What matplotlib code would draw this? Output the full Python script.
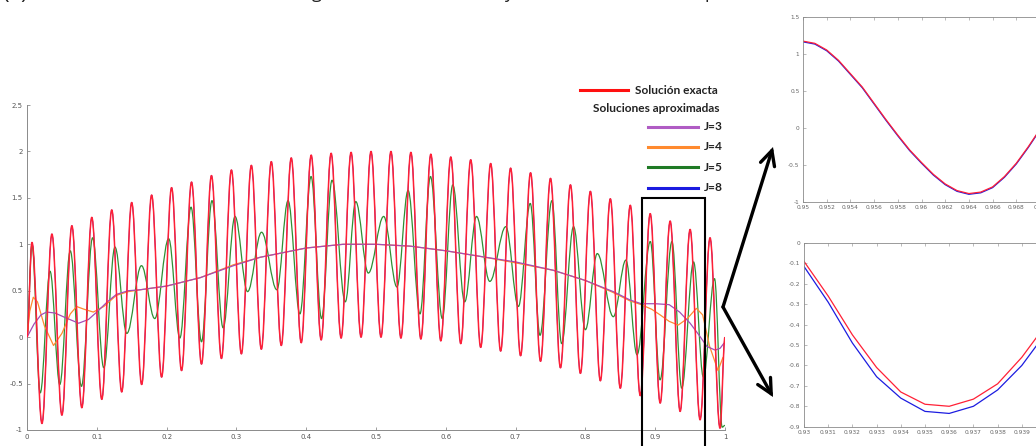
import matplotlib
matplotlib.use("Agg")
import matplotlib.pyplot as plt
import numpy as np
from matplotlib.path import Path
from matplotlib.patches import PathPatch, Rectangle, FancyArrowPatch
from matplotlib.lines import Line2D

# --- data ------------------------------------------------------------------
# exact solution: 35 oscillations on [0, 1]; extrema every half period
period = 1 / 35
red_peaks = [1.02, 1.11, 1.20, 1.29, 1.37, 1.45, 1.53, 1.61, 1.67, 1.74,
             1.80, 1.85, 1.89, 1.93, 1.96, 1.98, 1.99, 2.00, 2.00, 1.99,
             1.97, 1.94, 1.91, 1.87, 1.82, 1.77, 1.71, 1.64, 1.57, 1.49,
             1.42, 1.33, 1.25, 1.16, 1.07]
red_troughs = [-0.93, -0.84, -0.76, -0.67, -0.59, -0.51, -0.43, -0.36, -0.29, -0.23,
               -0.18, -0.13, -0.09, -0.06, -0.03, -0.01, 0.00, 0.00, -0.01, -0.02,
               -0.04, -0.07, -0.11, -0.15, -0.20, -0.26, -0.33, -0.39, -0.47, -0.55,
               -0.63, -0.71, -0.80, -0.89, -0.98]

# J=5 approximation: extrema (x, y)
j5_x = [0.0, 0.007, 0.019, 0.033, 0.047, 0.062, 0.078, 0.094, 0.110, 0.126,
        0.143, 0.164, 0.183, 0.203, 0.219, 0.235, 0.250, 0.265, 0.281, 0.298,
        0.316, 0.336, 0.358, 0.374, 0.391, 0.407, 0.422, 0.437, 0.456, 0.471,
        0.489, 0.511, 0.530, 0.546, 0.563, 0.578, 0.595, 0.610, 0.627, 0.644,
        0.663, 0.686, 0.704, 0.721, 0.735, 0.752, 0.766, 0.783, 0.800, 0.817,
        0.840, 0.858, 0.874, 0.893, 0.907, 0.924, 0.938, 0.955, 0.969, 0.985,
        0.996, 1.0]
j5_y = [0.0, 1.00, -0.60, 0.71, -0.51, 0.93, -0.53, 1.07, -0.33, 0.97,
        0.04, 0.77, 0.20, 1.06, -0.01, 1.40, -0.05, 1.47, 0.10, 1.30,
        0.49, 1.13, 0.51, 1.47, 0.25, 1.73, 0.20, 1.69, 0.38, 1.46,
        0.69, 1.30, 0.54, 1.58, 0.25, 1.73, 0.20, 1.64, 0.38, 1.30,
        0.60, 1.19, 0.33, 1.44, 0.02, 1.47, -0.07, 1.19, 0.08, 0.90,
        0.22, 0.83, -0.19, 1.03, -0.46, 1.03, -0.55, 0.81, -0.43, 0.63,
        -0.97, -0.95]

# J=3 approximation
j3_x = [0.0, 0.010, 0.020, 0.028, 0.040, 0.055, 0.074, 0.088, 0.100, 0.115,
        0.128, 0.145, 0.162, 0.200, 0.248, 0.296, 0.334, 0.400, 0.453, 0.500,
        0.549, 0.600, 0.649, 0.700, 0.754, 0.800, 0.840, 0.864, 0.880, 0.900,
        0.920, 0.935, 0.950, 0.963, 0.974, 0.986, 0.993, 0.998]
j3_y = [0.0, 0.14, 0.24, 0.27, 0.26, 0.21, 0.15, 0.19, 0.27, 0.38,
        0.46, 0.50, 0.51, 0.55, 0.64, 0.77, 0.86, 0.96, 1.00, 1.00,
        0.98, 0.93, 0.87, 0.81, 0.72, 0.61, 0.49, 0.40, 0.36, 0.36,
        0.35, 0.27, 0.15, 0.02, -0.10, -0.14, -0.12, -0.07]

# J=4 approximation
j4_x = [0.0, 0.004, 0.009, 0.015, 0.025, 0.038, 0.050, 0.062, 0.071, 0.082,
        0.095, 0.110, 0.128, 0.145, 0.162, 0.200, 0.248, 0.296, 0.334, 0.400,
        0.453, 0.500, 0.549, 0.600, 0.649, 0.700, 0.754, 0.800, 0.840, 0.864,
        0.880, 0.895, 0.907, 0.920, 0.933, 0.946, 0.959, 0.968, 0.978, 0.990,
        0.997]
j4_y = [0.0, 0.28, 0.43, 0.38, 0.12, -0.09, 0.04, 0.25, 0.33, 0.30,
        0.27, 0.33, 0.45, 0.49, 0.51, 0.55, 0.64, 0.78, 0.86, 0.96,
        1.00, 1.00, 0.98, 0.93, 0.87, 0.80, 0.72, 0.61, 0.48, 0.39,
        0.35, 0.30, 0.24, 0.17, 0.13, 0.20, 0.31, 0.24, -0.10, -0.36,
        -0.22]

# zoom windows (sampled every 0.001)
zoom1_x = [0.950, 0.951, 0.952, 0.953, 0.954, 0.955, 0.956, 0.957, 0.958, 0.959, 0.960,
           0.961, 0.962, 0.963, 0.964, 0.965, 0.966, 0.967, 0.968, 0.969, 0.970]
zoom1_exact = [1.17, 1.14, 1.05, 0.91, 0.73, 0.55, 0.33, 0.11, -0.10, -0.30, -0.47,
               -0.63, -0.76, -0.85, -0.89, -0.87, -0.80, -0.66, -0.48, -0.26, -0.02]
zoom1_j8 = [1.16, 1.13, 1.04, 0.90, 0.72, 0.54, 0.32, 0.10, -0.11, -0.31, -0.48,
            -0.64, -0.77, -0.86, -0.90, -0.88, -0.81, -0.67, -0.49, -0.27, -0.03]
zoom2_x = [0.930, 0.931, 0.932, 0.933, 0.934, 0.935, 0.936, 0.937, 0.938, 0.939, 0.940]
zoom2_exact = [-0.09, -0.26, -0.45, -0.61, -0.73, -0.79, -0.80, -0.765, -0.69, -0.56, -0.40]
zoom2_j8 = [-0.115, -0.29, -0.49, -0.655, -0.76, -0.825, -0.835, -0.80, -0.72, -0.60, -0.44]

series_labels = ["J=3", "J=4", "J=5", "J=8"]
c_exact = "#ff2036"
c_j3 = "#a24cb8"
c_j4 = "#ff8a2e"
c_j5 = "#2f8f34"
c_j8 = "#1c1ce0"
series_colors = ["#b05cc4", c_j4, "#1f7a25", c_j8]


def smooth_wave(ax, xs, ys, color, lw, z):
    # smooth half-waves between consecutive extrema (horizontal tangents)
    verts = [(xs[0], ys[0])]
    codes = [Path.MOVETO]
    for x0, y0, x1, y1 in zip(xs[:-1], ys[:-1], xs[1:], ys[1:]):
        d = x1 - x0
        verts += [(x0 + 0.364 * d, y0), (x1 - 0.364 * d, y1), (x1, y1)]
        codes += [Path.CURVE4] * 3
    ax.add_patch(PathPatch(Path(verts, codes), fill=False, edgecolor=color,
                           lw=lw, zorder=z, joinstyle="round"))


# exact solution extrema in order, with the end points
ext_y = [0.0]
for p, t in zip(red_peaks, red_troughs):
    ext_y += [p, t]
ext_y.append(0.0)
ext_x = [0.0] + [(i + 0.5) * period / 2 for i in range(len(ext_y) - 2)] + [1.0]

W, H = 1036, 446
fig = plt.figure(figsize=(W / 100, H / 100), dpi=100)

# ---- main plot ----
ax = fig.add_axes([27 / W, 16 / H, 698 / W, 325 / H])
smooth_wave(ax, ext_x, ext_y, c_j8, 0.6, 2)          # J=8 sits under the exact one
smooth_wave(ax, j5_x, j5_y, c_j5, 0.9, 3)
ax.plot(j4_x, j4_y, color=c_j4, lw=0.9, zorder=4)
ax.plot(j3_x, j3_y, color=c_j3, lw=0.9, zorder=4)
smooth_wave(ax, ext_x, ext_y, c_exact, 1.1, 5)

ax.set_xlim(0, 1)
ax.set_ylim(-1, 2.5)
ax.set_xticks(np.linspace(0, 1, 11))
ax.set_xticklabels(["0", "0.1", "0.2", "0.3", "0.4", "0.5", "0.6", "0.7", "0.8", "0.9", "1"])
ax.set_yticks(np.linspace(-1, 2.5, 8))
ax.set_yticklabels(["-1", "-0.5", "0", "0.5", "1", "1.5", "2", "2.5"])
ax.tick_params(direction="in", length=2.5, width=0.5, colors="#777", labelsize=5,
               labelcolor="#555", pad=3)
for s in ["top", "right"]:
    ax.spines[s].set_visible(False)
for s in ["left", "bottom"]:
    ax.spines[s].set_color("#8a8a8a")
    ax.spines[s].set_linewidth(0.7)
ax.set_facecolor("none")

# zoom box on the main plot
ax.add_patch(Rectangle((0.881, -1.35), 0.09, 2.85, fill=False, edgecolor="black",
                       lw=1.5, clip_on=False, zorder=6))

# ---- legend (drawn by hand, as in the original) ----
fig.add_artist(Line2D([580 / W, 628 / W], [1 - 90 / H] * 2, color="#ff1010", lw=2.2))
fig.text(635 / W, 1 - 90 / H, "Solución exacta", fontsize=8.6, fontweight="bold",
         family="Lato", va="center", color="#222")
fig.text(593 / W, 1 - 108.5 / H, "Soluciones aproximadas", fontsize=8.6, fontweight="bold",
         family="Lato", va="center", color="#222")
for lab, col, yy in zip(series_labels, series_colors, [127, 147, 167, 187.5]):
    fig.add_artist(Line2D([648 / W, 698 / W], [1 - yy / H] * 2, color=col, lw=2.2))
    fig.text(704 / W, 1 - yy / H, lab, fontsize=8.6, fontweight="bold",
             family="Lato", va="center", color="#222")

# ---- arrows to the zooms ----
vx, vy = 723 / W, 1 - 307 / H
for tx, ty in [(773 / W, 1 - 147 / H), (773 / W, 1 - 397 / H)]:
    fig.add_artist(FancyArrowPatch((vx, vy), (tx, ty), transform=fig.transFigure,
                                   arrowstyle="->,head_length=0.7,head_width=0.35",
                                   mutation_scale=15, lw=2.4, color="black",
                                   shrinkA=0, shrinkB=0, joinstyle="miter"))


def style_inset(a):
    a.tick_params(direction="in", length=2, width=0.4, colors="#888", labelsize=4.2,
                  labelcolor="#666", pad=2.5, top=True, right=True)
    for s in a.spines.values():
        s.set_color("#8a8a8a")
        s.set_linewidth(0.6)


# ---- upper zoom ----
ax1 = fig.add_axes([803 / W, (H - 201.7) / H, 237 / W, 185 / H])
ax1.plot(zoom1_x, zoom1_j8, color=c_j8, lw=0.9)
ax1.plot(zoom1_x, zoom1_exact, color=c_exact, lw=0.9)
ax1.set_xlim(0.95, 0.97)
ax1.set_ylim(-1, 1.5)
ax1.set_xticks(np.linspace(0.95, 0.97, 11))
ax1.set_xticklabels(["0.95", "0.952", "0.954", "0.956", "0.958", "0.96",
                     "0.962", "0.964", "0.966", "0.968", "0.97"])
ax1.set_yticks(np.linspace(-1, 1.5, 6))
ax1.set_yticklabels(["-1", "-0.5", "0", "0.5", "1", "1.5"])
style_inset(ax1)

# ---- lower zoom ----
ax2 = fig.add_axes([804 / W, (H - 426.7) / H, 242 / W, 183.7 / H])
ax2.plot(zoom2_x, zoom2_j8, color=c_j8, lw=0.9)
ax2.plot(zoom2_x, zoom2_exact, color=c_exact, lw=0.9)
ax2.set_xlim(0.93, 0.94)
ax2.set_ylim(-0.9, 0)
ax2.set_xticks(np.linspace(0.93, 0.94, 11))
ax2.set_xticklabels(["0.93", "0.931", "0.932", "0.933", "0.934", "0.935",
                     "0.936", "0.937", "0.938", "0.939", "0.94"])
ax2.set_yticks(np.linspace(-0.9, 0, 10))
ax2.set_yticklabels(["-0.9", "-0.8", "-0.7", "-0.6", "-0.5", "-0.4",
                     "-0.3", "-0.2", "-0.1", "0"])
style_inset(ax2)

# ---- caption line, cut off by the top edge as in the reference ----
caption = [("(a)", 2),
           ("La solución exacta frente a las", 48),
           ("gráficas de la solución", 312),
           ("y las soluciones", 504),
           ("para los niveles", 705)]
for txt, px in caption:
    fig.text(px / W, 1.0 + 1.5 / H, txt, fontsize=16 if txt == "(a)" else 13,
             family="Open Sans", va="baseline", ha="left", color="#222")

fig.savefig("out.png", dpi=100)
